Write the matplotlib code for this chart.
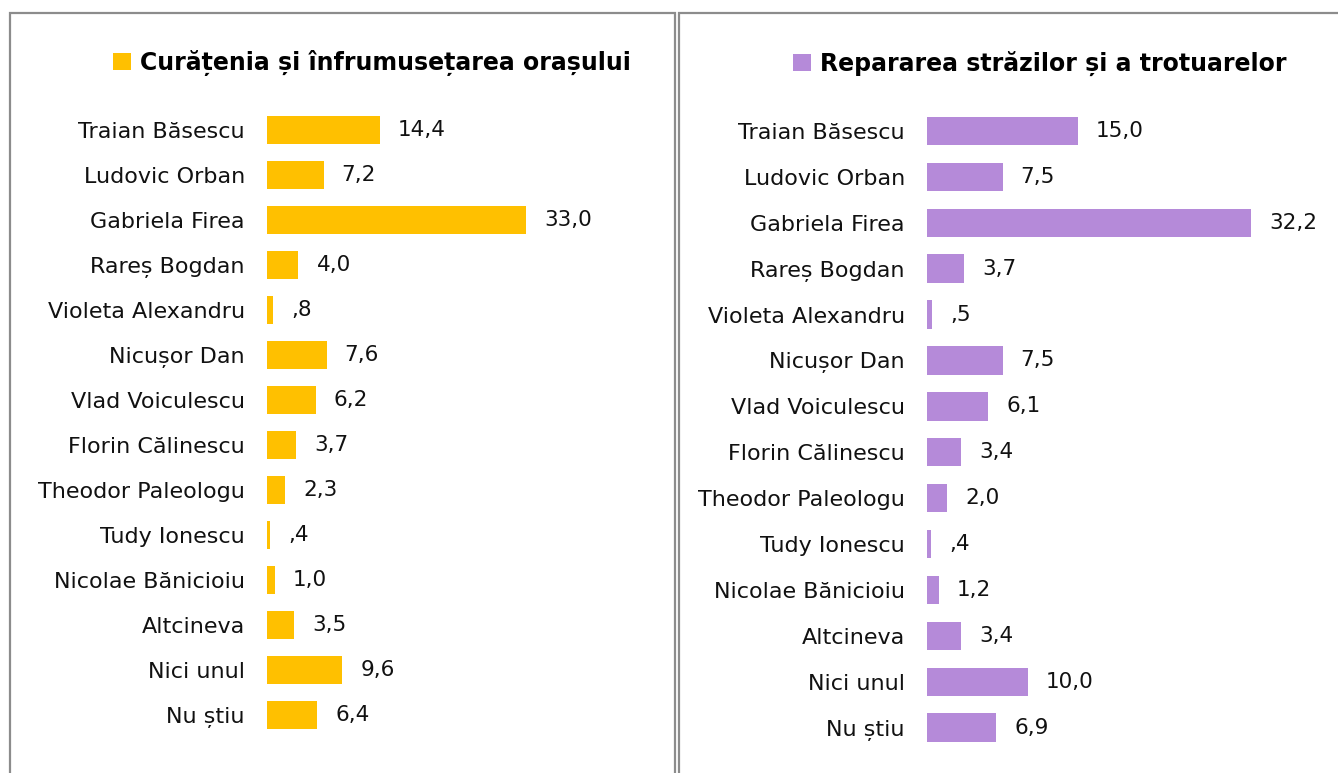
import matplotlib
matplotlib.use('Agg')
from matplotlib import pyplot as plt
from matplotlib.patches import Patch, Rectangle


candidates = ['Traian Băsescu', 'Ludovic Orban', 'Gabriela Firea', 'Rareș Bogdan',
              'Violeta Alexandru', 'Nicușor Dan', 'Vlad Voiculescu', 'Florin Călinescu',
              'Theodor Paleologu', 'Tudy Ionescu', 'Nicolae Bănicioiu', 'Altcineva',
              'Nici unul', 'Nu știu']
curatenie = [14.4, 7.2, 33.0, 4.0, 0.8, 7.6, 6.2, 3.7, 2.3, 0.4, 1.0, 3.5, 9.6, 6.4]
strazi = [15.0, 7.5, 32.2, 3.7, 0.5, 7.5, 6.1, 3.4, 2.0, 0.4, 1.2, 3.4, 10.0, 6.9]

title_left = 'Curățenia și înfrumusețarea orașului'
title_right = 'Repararea străzilor și a trotuarelor'

GOLD = '#FFC000'
PURPLE = '#B58AD9'
BORDER = '#8c8c8c'

W, H = 1338, 773


def fmt(v: float) -> str:
    # comma decimals, no leading zero (",8")
    s = f'{v:.1f}'.replace('.', ',')
    if s.startswith('0,'):
        s = s[1:]
    return s


def px_axes(fig, left, top, width, height):
    return fig.add_axes([left / W, 1 - (top + height) / H, width / W, height / H])


def draw_panel(ax, values, color, xmax):
    y = list(range(len(candidates)))
    ax.barh(y, values, height=0.62, color=color)
    for yi, v in zip(y, values):
        ax.annotate(fmt(v), (v, yi), xytext=(13, 0), textcoords='offset points',
                    va='center', ha='left', fontsize=15.5, color='#111111')
    ax.set_ylim(len(candidates) - 0.5, -0.5)
    ax.set_xlim(0, xmax)
    ax.set_yticks(y)
    ax.set_yticklabels(candidates, fontsize=16, color='#111111')
    ax.set_xticks([])
    ax.tick_params(axis='y', length=0, pad=16)
    for s in ax.spines.values():
        s.set_visible(False)
    ax.patch.set_alpha(0)


def panel_legend(fig, ax, label, color, cx, cy):
    h = Patch(facecolor=color, edgecolor='none')
    ax.legend([h], [label], loc='center', bbox_to_anchor=(cx / W, 1 - cy / H),
              bbox_transform=fig.transFigure, frameon=False, handlelength=0.75,
              handleheight=0.75, handletextpad=0.4,
              prop={'weight': 'bold', 'size': 17})


def main() -> None:
    plt.rcParams['font.family'] = ['DejaVu Sans']
    fig = plt.figure(figsize=(W / 100, H / 100), dpi=100)
    fig.patch.set_facecolor('white')

    # panel frames (open at the bottom / right edge)
    fig.patches.append(Rectangle((10 / W, -0.05), 665 / W, 1.05 - 13 / H, transform=fig.transFigure,
                                 fill=False, edgecolor=BORDER, linewidth=1.6))
    fig.patches.append(Rectangle((679 / W, -0.05), 700 / W, 1.05 - 13 / H, transform=fig.transFigure,
                                 fill=False, edgecolor=BORDER, linewidth=1.6))

    ax1 = px_axes(fig, 267, 130 - 22.5, 350, 45 * 14)
    draw_panel(ax1, curatenie, GOLD, 350 / 7.85)
    panel_legend(fig, ax1, title_left, GOLD, 372, 63)

    ax2 = px_axes(fig, 927, 131 - 23, 350, 45.9 * 14)
    draw_panel(ax2, strazi, PURPLE, 350 / 10.07)
    panel_legend(fig, ax2, title_right, PURPLE, 1040, 63)

    fig.savefig('out.png', dpi=100)


if __name__ == '__main__':
    main()
